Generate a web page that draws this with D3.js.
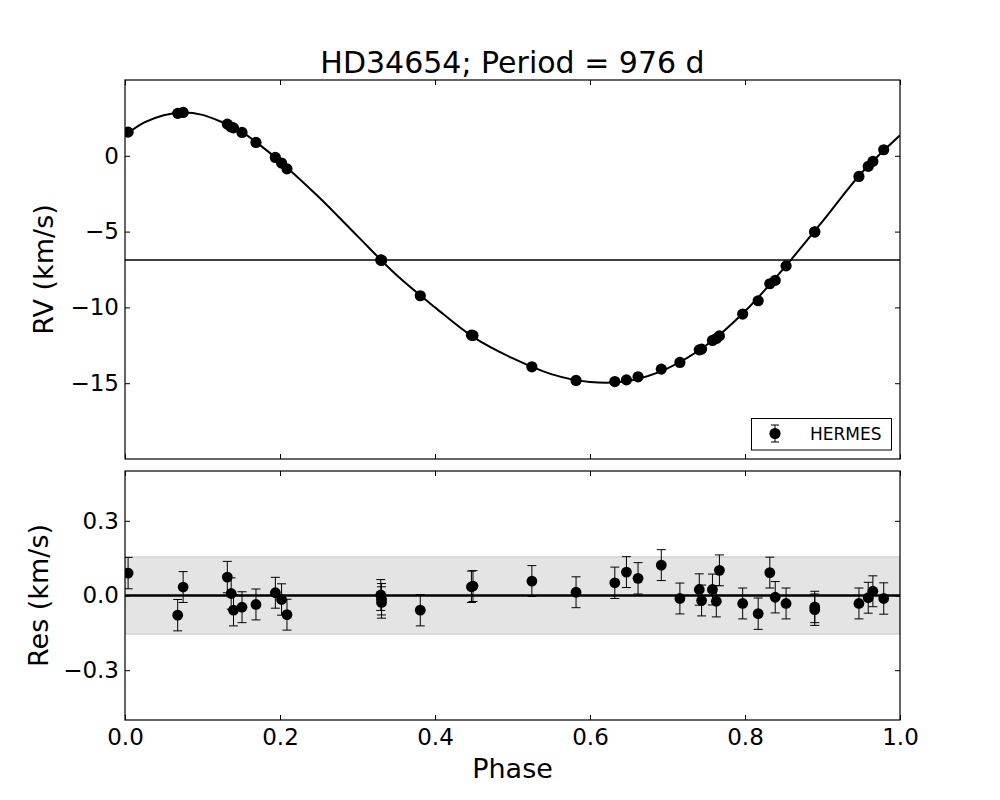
<!DOCTYPE html>
<html>
<head>
<meta charset="utf-8">
<script src="https://cdn.jsdelivr.net/npm/d3@7"></script>
<style>
  html, body { margin: 0; padding: 0; background: #fff; }
  svg { display: block; font-family: "DejaVu Sans", sans-serif; }
</style>
</head>
<body>
<svg id="chart" width="1000" height="800"></svg>
<script>
// ---------------- data ----------------
const titleText = "HD34654; Period = 976 d";
const seriesName = "HERMES";

const phase = [0.004, 0.068, 0.075, 0.132, 0.137, 0.140, 0.151, 0.169, 0.194, 0.202,
               0.209, 0.330, 0.331, 0.331, 0.381, 0.447, 0.449, 0.525, 0.582, 0.632,
               0.647, 0.662, 0.692, 0.716, 0.741, 0.744, 0.758, 0.763, 0.767, 0.797,
               0.817, 0.832, 0.839, 0.853, 0.890, 0.890, 0.947, 0.959, 0.965, 0.979];
const rv = [1.56, 2.80, 2.86, 2.09, 1.90, 1.84, 1.54, 0.88, -0.11, -0.48,
            -0.86, -6.87, -6.89, -6.90, -9.23, -11.83, -11.85, -13.92, -14.82, -14.89,
            -14.78, -14.58, -14.07, -13.63, -12.80, -12.75, -12.18, -12.05, -11.88, -10.44,
            -9.56, -8.44, -8.22, -7.26, -5.01, -5.03, -1.36, -0.70, -0.37, 0.40];
const residual = [0.090, -0.079, 0.034, 0.074, 0.008, -0.059, -0.047, -0.036, 0.011, -0.016,
                  -0.077, 0.002, -0.015, -0.028, -0.059, 0.035, 0.038, 0.058, 0.013, 0.051,
                  0.094, 0.069, 0.122, -0.012, 0.024, -0.020, 0.024, -0.023, 0.101, -0.032,
                  -0.073, 0.092, -0.007, -0.032, -0.046, -0.057, -0.032, -0.009, 0.017, -0.012];
const rvErr = [0.063, 0.063, 0.062, 0.063, 0.063, 0.063, 0.062, 0.062, 0.062, 0.063,
               0.062, 0.062, 0.063, 0.063, 0.063, 0.063, 0.062, 0.062, 0.062, 0.063,
               0.062, 0.063, 0.062, 0.062, 0.063, 0.062, 0.062, 0.063, 0.062, 0.062,
               0.063, 0.062, 0.063, 0.062, 0.063, 0.063, 0.062, 0.062, 0.062, 0.063];

// model curve
const modelPhase = [0.000, 0.025, 0.050, 0.075, 0.100, 0.125, 0.150, 0.175, 0.200, 0.250,
                    0.300, 0.350, 0.400, 0.450, 0.500, 0.550, 0.600, 0.650, 0.700, 0.750,
                    0.800, 0.850, 0.900, 0.950, 1.000];
const modelRV = [1.35, 2.20, 2.68, 2.86, 2.70, 2.22, 1.59, 0.67, -0.37, -2.72,
                 -5.30, -7.85, -10.00, -11.98, -13.35, -14.40, -14.92, -14.85, -14.02, -12.50,
                 -10.25, -7.42, -4.33, -1.15, 1.35];

const gamma = -6.87;      // systemic velocity line
const rmsBand = 0.155;    // shaded residual band half-width

const xTicks = [0.0, 0.2, 0.4, 0.6, 0.8, 1.0];
const rvTicks = [-15, -10, -5, 0];
const resTicks = [-0.3, 0.0, 0.3];

// ---------------- layout ----------------
const svg = d3.select("#chart");
const L = 125, R = 900;
const topT = 80, topB = 459;
const botT = 471, botB = 720;
const FONT = "DejaVu Sans";

svg.append("rect").attr("width", 1000).attr("height", 800).attr("fill", "#fff");

const x = d3.scaleLinear().domain([0, 1]).range([L, R]);
const yTop = d3.scaleLinear().domain([-20, 5]).range([topB, topT]);
const yBot = d3.scaleLinear().domain([-0.5, 0.5]).range([botB, botT]);

const pts = phase.map((p, i) => ({p, rv: rv[i], res: residual[i], e: rvErr[i]}));
const model = modelPhase.map((p, i) => ({p, v: modelRV[i]}));

const defs = svg.append("defs");
defs.append("clipPath").attr("id", "clipTop").append("rect")
  .attr("x", L).attr("y", topT).attr("width", R - L).attr("height", topB - topT);
defs.append("clipPath").attr("id", "clipBot").append("rect")
  .attr("x", L).attr("y", botT).attr("width", R - L).attr("height", botB - botT);

// ---------------- top panel ----------------
const gTop = svg.append("g").attr("clip-path", "url(#clipTop)");

gTop.append("line")
  .attr("x1", L).attr("x2", R)
  .attr("y1", yTop(gamma)).attr("y2", yTop(gamma))
  .attr("stroke", "#000").attr("stroke-width", 1.5);

gTop.append("path").datum(model)
  .attr("fill", "none").attr("stroke", "#000").attr("stroke-width", 2)
  .attr("d", d3.line().x(d => x(d.p)).y(d => yTop(d.v)).curve(d3.curveCatmullRom.alpha(0.5)));

const capW = 4.5;
function errBars(g, yScale, key) {
  const eb = g.selectAll(null).data(pts).enter().append("g")
    .attr("stroke", "#000").attr("stroke-width", 1);
  eb.append("line").attr("x1", d => x(d.p)).attr("x2", d => x(d.p))
    .attr("y1", d => yScale(d[key] - d.e)).attr("y2", d => yScale(d[key] + d.e));
  eb.append("line").attr("x1", d => x(d.p) - capW).attr("x2", d => x(d.p) + capW)
    .attr("y1", d => yScale(d[key] - d.e)).attr("y2", d => yScale(d[key] - d.e));
  eb.append("line").attr("x1", d => x(d.p) - capW).attr("x2", d => x(d.p) + capW)
    .attr("y1", d => yScale(d[key] + d.e)).attr("y2", d => yScale(d[key] + d.e));
}
errBars(gTop, yTop, "rv");
gTop.selectAll(null).data(pts).enter().append("circle")
  .attr("cx", d => x(d.p)).attr("cy", d => yTop(d.rv)).attr("r", 5.6).attr("fill", "#000");

// ---------------- bottom panel ----------------
const gBot = svg.append("g").attr("clip-path", "url(#clipBot)");
gBot.append("rect")
  .attr("x", L).attr("width", R - L)
  .attr("y", yBot(rmsBand)).attr("height", yBot(-rmsBand) - yBot(rmsBand))
  .attr("fill", "#e4e4e4").attr("stroke", "#c6c6c6").attr("stroke-width", 1);
gBot.append("line")
  .attr("x1", L).attr("x2", R).attr("y1", yBot(0)).attr("y2", yBot(0))
  .attr("stroke", "#000").attr("stroke-width", 2.5);
errBars(gBot, yBot, "res");
gBot.selectAll(null).data(pts).enter().append("circle")
  .attr("cx", d => x(d.p)).attr("cy", d => yBot(d.res)).attr("r", 5.4).attr("fill", "#000");

// ---------------- axes ----------------
function styleAxis(g, fs) {
  g.select(".domain").remove();
  g.selectAll(".tick line").attr("stroke", "#000").attr("stroke-width", 1);
  g.selectAll(".tick text").attr("fill", "#000").attr("font-family", FONT).attr("font-size", fs);
}
function frame(t, b, yScale, yT, fmt, showX) {
  const fs = 23;
  const gl = svg.append("g").attr("transform", `translate(${L},0)`)
    .call(d3.axisLeft(yScale).tickValues(yT).tickFormat(fmt).tickSizeInner(-5).tickSizeOuter(0).tickPadding(6));
  styleAxis(gl, fs);
  const gr = svg.append("g").attr("transform", `translate(${R},0)`)
    .call(d3.axisRight(yScale).tickValues(yT).tickFormat("").tickSizeInner(-5).tickSizeOuter(0));
  styleAxis(gr, fs);
  const gt = svg.append("g").attr("transform", `translate(0,${t})`)
    .call(d3.axisTop(x).tickValues(xTicks).tickFormat("").tickSizeInner(-5).tickSizeOuter(0));
  styleAxis(gt, fs);
  const gb = svg.append("g").attr("transform", `translate(0,${b})`)
    .call(d3.axisBottom(x).tickValues(xTicks).tickFormat(showX ? d3.format(".1f") : "")
      .tickSizeInner(-5).tickSizeOuter(0).tickPadding(9));
  styleAxis(gb, fs);
  svg.append("rect").attr("x", L).attr("y", t).attr("width", R - L).attr("height", b - t)
    .attr("fill", "none").attr("stroke", "#000").attr("stroke-width", 1.2);
}
const minus = s => s.replace("-", "\u2212");
frame(topT, topB, yTop, rvTicks, d => minus(d3.format("d")(d)), false);
frame(botT, botB, yBot, resTicks, d => minus(d3.format(".1f")(d)), true);

// ---------------- legend ----------------
const lg = svg.append("g");
lg.append("rect").attr("x", 751.5).attr("y", 418.5).attr("width", 140).attr("height", 31.5)
  .attr("fill", "#fff").attr("stroke", "#000").attr("stroke-width", 1);
lg.append("line").attr("x1", 775).attr("x2", 775).attr("y1", 425).attr("y2", 442).attr("stroke", "#000");
lg.append("line").attr("x1", 771).attr("x2", 779).attr("y1", 425).attr("y2", 425).attr("stroke", "#000");
lg.append("line").attr("x1", 771).attr("x2", 779).attr("y1", 442).attr("y2", 442).attr("stroke", "#000");
lg.append("circle").attr("cx", 775).attr("cy", 433.5).attr("r", 5.6).attr("fill", "#000");
lg.append("text").attr("x", 810).attr("y", 439.5).attr("font-family", FONT).attr("font-size", 17)
  .attr("fill", "#000").text(seriesName);

// ---------------- titles ----------------
svg.append("text").attr("x", (L + R) / 2).attr("y", 73).attr("text-anchor", "middle")
  .attr("font-family", FONT).attr("font-size", 30).attr("fill", "#000").text(titleText);
svg.append("text").attr("x", (L + R) / 2).attr("y", 778).attr("text-anchor", "middle")
  .attr("font-family", FONT).attr("font-size", 27).attr("fill", "#000").text("Phase");
svg.append("text").attr("transform", `translate(53,${(topT + topB) / 2}) rotate(-90)`)
  .attr("text-anchor", "middle").attr("font-family", FONT).attr("font-size", 27)
  .attr("fill", "#000").text("RV (km/s)");
svg.append("text").attr("transform", `translate(48,${(botT + botB) / 2}) rotate(-90)`)
  .attr("text-anchor", "middle").attr("font-family", FONT).attr("font-size", 27)
  .attr("fill", "#000").text("Res (km/s)");
</script>
</body>
</html>
